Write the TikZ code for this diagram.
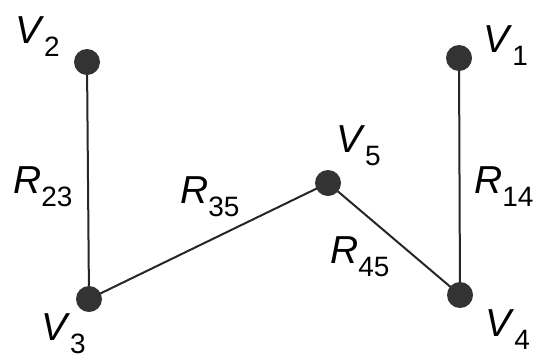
\documentclass[tikz,border=0pt]{standalone}
\usepackage{fontspec}
\setmainfont{Liberation Sans}
\usepackage{tikz}
\usepackage{tkz-euclide}

\newcommand\lbl[2]{\textit{#1}\raisebox{-13pt}{\fontsize{28}{28}\selectfont #2}}

\begin{document}
\begin{tikzpicture}[x=1pt,y=-1pt,
    lab/.style={anchor=base west,inner sep=0pt,font=\fontsize{39}{39}\selectfont}]
            \useasboundingbox (0,0) rectangle (537,360);
            \tkzDefPoints{459/58/V1, 87/62/V2, 89/299/V3, 460/295/V4, 328/183/V5}
            \tkzDrawSegments[black!85, line width=2pt](V2,V3 V3,V5 V5,V4 V4,V1)
            \foreach \p in {V1,V2,V3,V4,V5}
                \fill[black!80] (\p) circle (13pt);
            \node[lab] (lV1) at (483,52) {\lbl{V}{1}};
            \node[lab] (lV2) at (15,43) {\lbl{V}{2}};
            \node[lab] (lV3) at (41,340) {\lbl{V}{3}};
            \node[lab] (lV4) at (485,336) {\lbl{V}{4}};
            \node[lab] (lV5) at (336,152) {\lbl{V}{5}};
            \node[lab] (lR23) at (13,193) {\lbl{R}{23}};
            \node[lab] (lR35) at (180,203) {\lbl{R}{35}};
            \node[lab] (lR14) at (474,193) {\lbl{R}{14}};
            \node[lab] (lR45) at (330,263) {\lbl{R}{45}};
        \end{tikzpicture}
\end{document}
